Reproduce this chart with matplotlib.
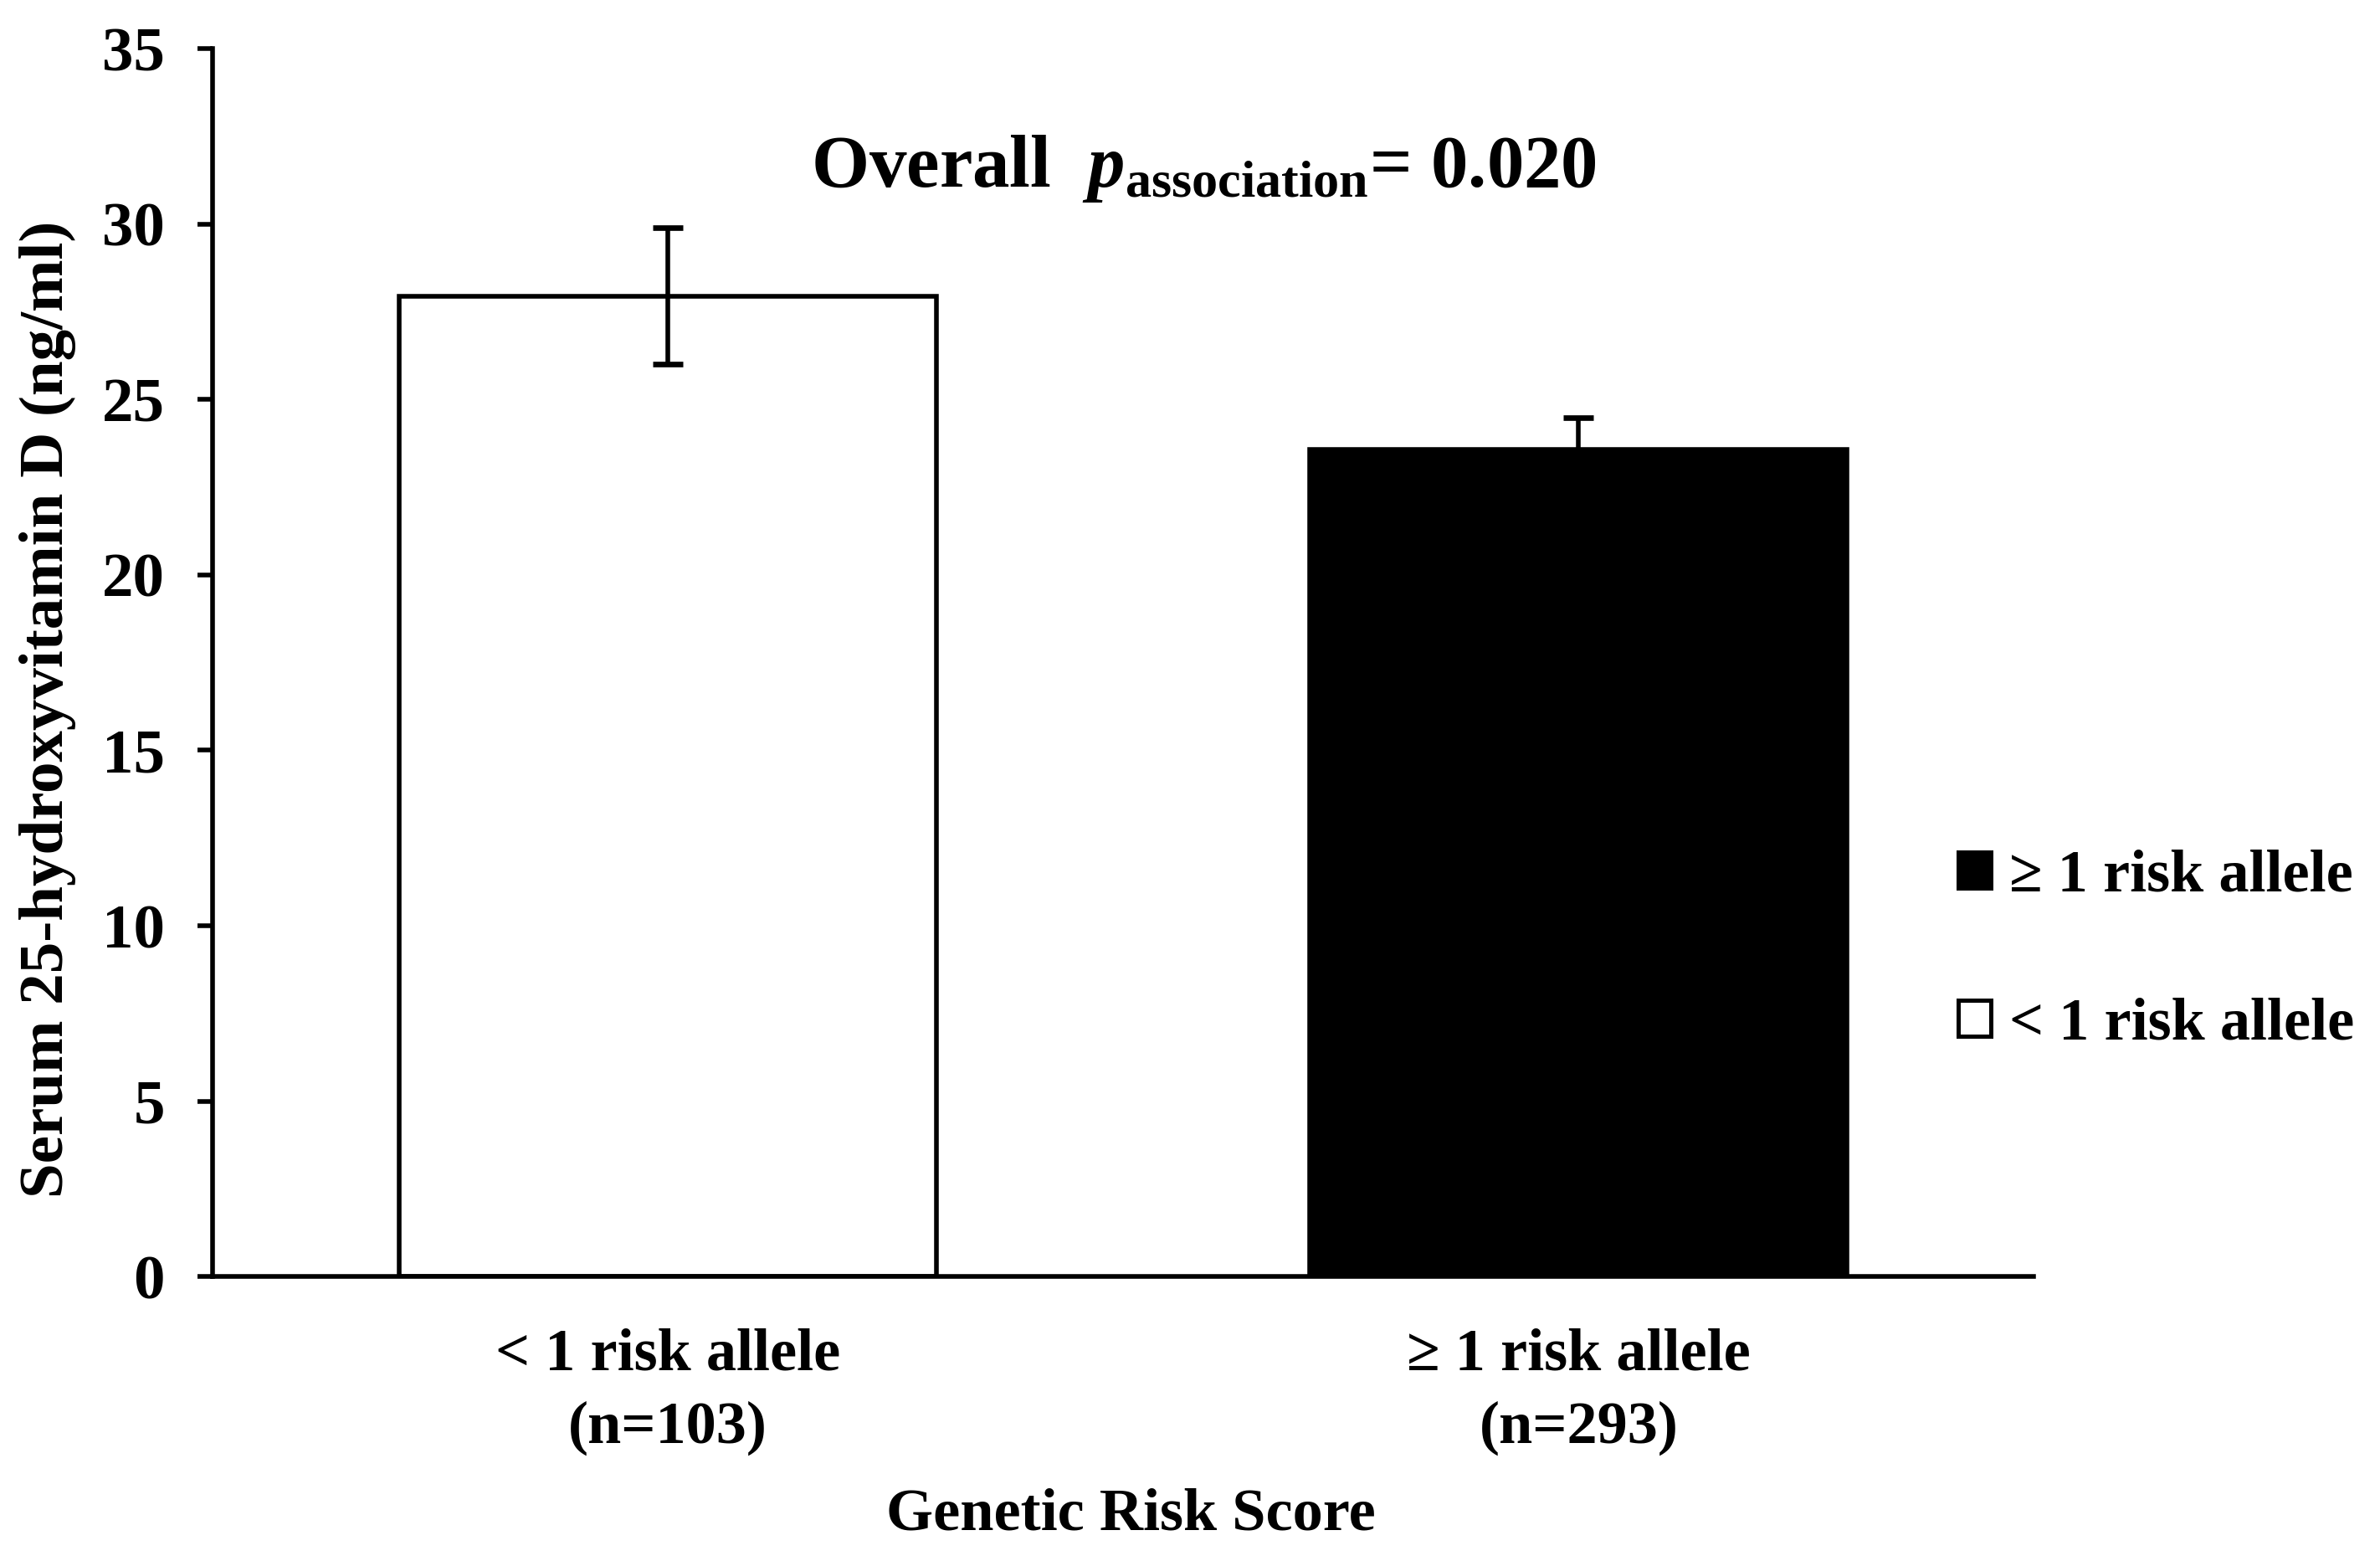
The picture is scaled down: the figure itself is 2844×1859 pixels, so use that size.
import matplotlib
matplotlib.use('Agg')
import matplotlib.pyplot as plt
from matplotlib.patches import Patch

plt.rcParams['font.family'] = ['Liberation Serif', 'DejaVu Serif']
plt.rcParams['font.weight'] = 'bold'
plt.rcParams['axes.labelweight'] = 'bold'
plt.rcParams['mathtext.fontset'] = 'custom'
plt.rcParams['mathtext.rm'] = 'Liberation Serif:bold'
plt.rcParams['mathtext.it'] = 'Liberation Serif:italic:bold'
plt.rcParams['mathtext.bf'] = 'Liberation Serif:bold'

# data
groups = ['< 1 risk allele\n(n=103)', '\u2265 1 risk allele\n(n=293)']
means = [27.95, 23.58]
errors = [1.95, 0.9]
colors = ['white', 'black']
legend_labels = ['\u2265 1 risk allele', '< 1 risk allele']

fig = plt.figure(figsize=(14.22, 9.295), dpi=200)
ax = fig.add_axes([0.0893, 0.1795, 0.7653, 0.7893])

x = list(range(len(groups)))
ax.bar(x, means, width=0.59, color=colors, edgecolor='black', linewidth=2.0,
       yerr=errors, capsize=6.5, error_kw=dict(elinewidth=2.0, capthick=2.4, ecolor='black'))

ax.set_xlim(-0.5, 1.5)
ax.set_ylim(0, 35)
ax.set_yticks(range(0, 36, 5))
ax.set_xticks(x)
ax.set_xticklabels(groups, fontsize=26, linespacing=1.45)
ax.tick_params(axis='y', labelsize=27, length=6.5, width=2, pad=14, direction='out')
ax.tick_params(axis='x', length=0, pad=22)

for s in ['top', 'right']:
    ax.spines[s].set_visible(False)
for s in ['left', 'bottom']:
    ax.spines[s].set_linewidth(2)

ax.set_ylabel('Serum 25-hydroxyvitamin D (ng/ml)', fontsize=27)
ax.yaxis.set_label_coords(-0.075, 0.462)
ax.set_xlabel('Genetic Risk Score', fontsize=26)
ax.xaxis.set_label_coords(0.504, -0.172)

ax.text(0.544, 0.902, r'Overall  $\mathit{p}_{\mathrm{association}}$= 0.020',
        transform=ax.transAxes, ha='center', va='center', fontsize=32)

handles = [Patch(facecolor='black', edgecolor='black', linewidth=1.8),
           Patch(facecolor='white', edgecolor='black', linewidth=1.8)]
fig.legend(handles, legend_labels, loc='center left', bbox_to_anchor=(0.8227, 0.389),
           frameon=False, fontsize=26, handlelength=0.55, handleheight=0.55,
           handletextpad=0.3, labelspacing=1.55, borderpad=0, borderaxespad=0)

fig.savefig('out.png', dpi=200)
